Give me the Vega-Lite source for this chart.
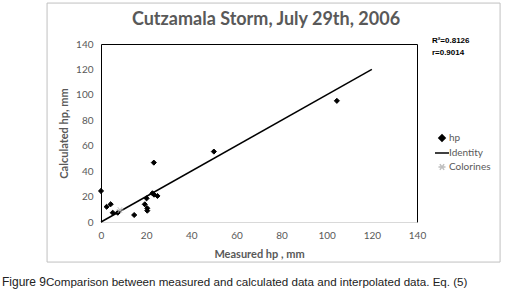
{
  "$schema": "https://vega.github.io/schema/vega-lite/v6.json",
  "width": 316,
  "height": 178,
  "autosize": {"type": "none"},
  "padding": {"left": 101, "top": 44, "right": 91, "bottom": 79},
  "background": "white",
  "config": {
    "view": {"stroke": "black", "strokeWidth": 1},
    "font": "Lato",
    "axis": {"labelFont": "Lato", "titleFont": "Lato", "labelColor": "#595959", "titleColor": "#595959", "grid": false, "ticks": false, "labelFontSize": 10, "titleFontSize": 11, "titleFontWeight": "bold", "labelOverlap": false, "labelFlush": false},
    "axisX": {"values": [0, 20, 40, 60, 80, 100, 120, 140], "domainColor": "#d9d9d9", "labelPadding": 8, "titlePadding": 8},
    "axisY": {"values": [0, 20, 40, 60, 80, 100, 120, 140], "domain": false, "labelPadding": 8, "titlePadding": 6},
    "legend": {"labelFont": "Lato", "labelFontSize": 10, "labelColor": "#595959"}
  },
  "title": {"text": "Cutzamala Storm, July 29th, 2006", "font": "Lato", "fontSize": 18, "fontWeight": "bold", "color": "#595959", "anchor": "middle", "dx": 7, "offset": 0, "dy": 26},
  "datasets": {
    "main": [
      {"measured": 0, "calculated": 24.4, "series": "hp"},
      {"measured": 2.5, "calculated": 12, "series": "hp"},
      {"measured": 4.3, "calculated": 14, "series": "hp"},
      {"measured": 5.2, "calculated": 7.3, "series": "hp"},
      {"measured": 7.4, "calculated": 7.3, "series": "hp"},
      {"measured": 14.7, "calculated": 5.5, "series": "hp"},
      {"measured": 19.4, "calculated": 13.9, "series": "hp"},
      {"measured": 20.2, "calculated": 18.6, "series": "hp"},
      {"measured": 20.5, "calculated": 10.8, "series": "hp"},
      {"measured": 20.5, "calculated": 8.9, "series": "hp"},
      {"measured": 22.8, "calculated": 22.6, "series": "hp"},
      {"measured": 23.5, "calculated": 21.5, "series": "hp"},
      {"measured": 25, "calculated": 20.5, "series": "hp"},
      {"measured": 23.4, "calculated": 46.7, "series": "hp"},
      {"measured": 50, "calculated": 55.4, "series": "hp"},
      {"measured": 104.5, "calculated": 95.3, "series": "hp"},
      {"measured": 0, "calculated": 0, "series": "Identity"},
      {"measured": 120, "calculated": 120, "series": "Identity"},
      {"measured": 8.4, "calculated": 9.4, "series": "Colorines"}
    ],
    "one": [{"k": 1}]
  },
  "layer": [
    {
      "data": {"name": "one"},
      "mark": {"type": "rule", "color": "#c0c0c0", "strokeWidth": 1, "clip": false},
      "encoding": {"x": {"datum": -23.9, "type": "quantitative"}, "x2": {"datum": 176.8}, "y": {"datum": 172.2, "type": "quantitative"}}
    },
    {
      "data": {"name": "one"},
      "mark": {"type": "rule", "color": "#c0c0c0", "strokeWidth": 1, "clip": false},
      "encoding": {"x": {"datum": -23.9, "type": "quantitative"}, "x2": {"datum": 176.8}, "y": {"datum": -31.5, "type": "quantitative"}}
    },
    {
      "data": {"name": "one"},
      "mark": {"type": "rule", "color": "#c0c0c0", "strokeWidth": 1, "clip": false},
      "encoding": {"x": {"datum": -23.9, "type": "quantitative"}, "y": {"datum": -31.5, "type": "quantitative"}, "y2": {"datum": 172.2}}
    },
    {
      "data": {"name": "one"},
      "mark": {"type": "rule", "color": "#c0c0c0", "strokeWidth": 1, "clip": false},
      "encoding": {"x": {"datum": 176.8, "type": "quantitative"}, "y": {"datum": -31.5, "type": "quantitative"}, "y2": {"datum": 172.2}}
    },
    {
      "data": {"name": "main"},
      "transform": [{"filter": "datum.series === 'Identity'"}],
      "mark": {"type": "line", "strokeWidth": 1.5},
      "encoding": {
        "x": {"field": "measured", "type": "quantitative", "scale": {"domain": [0, 140], "nice": false, "zero": true}, "title": "Measured hp , mm"},
        "y": {"field": "calculated", "type": "quantitative", "scale": {"domain": [0, 140], "nice": false}, "title": "Calculated hp, mm"},
        "stroke": {"field": "series", "type": "nominal", "scale": {"domain": ["hp", "Identity", "Colorines"], "range": ["black", "black", "#bfbfbf"]}, "legend": {"title": null, "orient": "none", "legendX": 336, "legendY": 89, "rowPadding": 3, "labelOffset": 2, "symbolStrokeWidth": 1.5, "encode": {"symbols": {"update": {"size": {"signal": "datum.value === 'Identity' ? 196 : (datum.value === 'Colorines' ? 50 : 40)"}}}}}}
      }
    },
    {
      "data": {"name": "main"},
      "transform": [{"filter": "datum.series !== 'Identity'"}],
      "mark": {"type": "point", "strokeWidth": 1, "opacity": 1},
      "encoding": {
        "x": {"field": "measured", "type": "quantitative", "scale": {"domain": [0, 140], "nice": false, "zero": true}, "title": "Measured hp , mm"},
        "y": {"field": "calculated", "type": "quantitative", "scale": {"domain": [0, 140], "nice": false}, "title": "Calculated hp, mm"},
        "size": {"condition": {"test": "datum.series === 'Colorines'", "value": 50}, "value": 26},
        "shape": {"field": "series", "type": "nominal", "scale": {"domain": ["hp", "Identity", "Colorines"], "range": ["diamond", "stroke", "M-1,0L1,0M-0.6,-0.8L0.6,0.8M-0.6,0.8L0.6,-0.8"]}, "legend": {"title": null, "orient": "none", "legendX": 336, "legendY": 89, "rowPadding": 3, "labelOffset": 2, "symbolStrokeWidth": 1.5, "encode": {"symbols": {"update": {"size": {"signal": "datum.value === 'Identity' ? 196 : (datum.value === 'Colorines' ? 50 : 40)"}}}}}},
        "fill": {"field": "series", "type": "nominal", "scale": {"domain": ["hp", "Identity", "Colorines"], "range": ["black", "transparent", "transparent"]}, "legend": {"title": null, "orient": "none", "legendX": 336, "legendY": 89, "rowPadding": 3, "labelOffset": 2, "symbolStrokeWidth": 1.5, "encode": {"symbols": {"update": {"size": {"signal": "datum.value === 'Identity' ? 196 : (datum.value === 'Colorines' ? 50 : 40)"}}}}}},
        "stroke": {"field": "series", "type": "nominal", "scale": {"domain": ["hp", "Identity", "Colorines"], "range": ["black", "black", "#bfbfbf"]}, "legend": {"title": null, "orient": "none", "legendX": 336, "legendY": 89, "rowPadding": 3, "labelOffset": 2, "symbolStrokeWidth": 1.5, "encode": {"symbols": {"update": {"size": {"signal": "datum.value === 'Identity' ? 196 : (datum.value === 'Colorines' ? 50 : 40)"}}}}}}
      }
    },
    {
      "data": {"name": "one"},
      "mark": {"type": "text", "font": "Liberation Sans", "fontSize": 8, "fontWeight": "bold", "fill": "black", "align": "left", "baseline": "alphabetic"},
      "encoding": {"x": {"datum": 146.6, "type": "quantitative"}, "y": {"datum": 140.8, "type": "quantitative"}, "text": {"value": "R²=0.8126"}}
    },
    {
      "data": {"name": "one"},
      "mark": {"type": "text", "font": "Liberation Sans", "fontSize": 8, "fontWeight": "bold", "fill": "black", "align": "left", "baseline": "alphabetic"},
      "encoding": {"x": {"datum": 146.6, "type": "quantitative"}, "y": {"datum": 131.3, "type": "quantitative"}, "text": {"value": "r=0.9014"}}
    },
    {
      "data": {"name": "one"},
      "mark": {"type": "text", "font": "Liberation Sans", "fontSize": 12, "fill": "#222222", "align": "left", "baseline": "alphabetic"},
      "encoding": {"x": {"datum": -43.86, "type": "quantitative"}, "y": {"datum": -50.3, "type": "quantitative"}, "text": {"value": "Figure 9"}}
    },
    {
      "data": {"name": "one"},
      "mark": {"type": "text", "font": "Liberation Sans", "fontSize": 11.6, "fill": "#222222", "align": "left", "baseline": "alphabetic"},
      "encoding": {"x": {"datum": -24.4, "type": "quantitative"}, "y": {"datum": -50.3, "type": "quantitative"}, "text": {"value": "Comparison between measured and calculated data and interpolated data. Eq. (5)"}}
    }
  ]
}
